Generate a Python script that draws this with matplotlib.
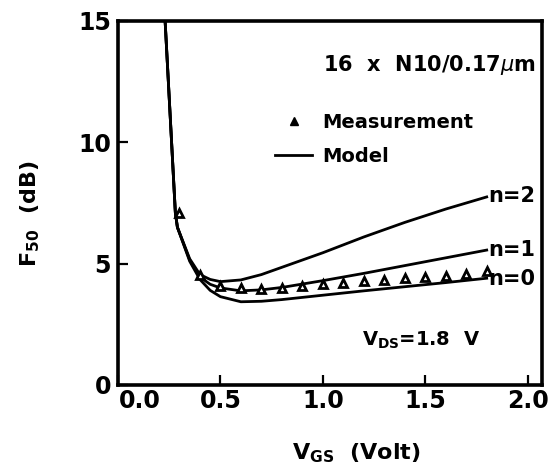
import matplotlib
matplotlib.use('Agg')
from matplotlib import pyplot as plt
from matplotlib import transforms
from matplotlib.lines import Line2D

# model curves F50 vs VGS for n = 0, 1, 2
vgs_model = [0.23, 0.28, 0.29, 0.35, 0.40, 0.45, 0.50, 0.60, 0.70, 0.80, 1.00, 1.20, 1.40, 1.60, 1.80]
f50_n2 = [15.0, 7.10, 6.50, 5.20, 4.55, 4.35, 4.26, 4.33, 4.55, 4.85, 5.45, 6.10, 6.70, 7.25, 7.75]
f50_n1 = [15.0, 7.10, 6.50, 5.15, 4.45, 4.15, 4.00, 3.88, 3.92, 4.02, 4.30, 4.60, 4.92, 5.24, 5.56]
f50_n0 = [15.0, 7.10, 6.50, 5.10, 4.35, 3.90, 3.64, 3.43, 3.45, 3.52, 3.70, 3.88, 4.05, 4.22, 4.40]

# measured points
vgs_meas = [0.3, 0.4, 0.5, 0.6, 0.7, 0.8, 0.9, 1.0, 1.1, 1.2, 1.3, 1.4, 1.5, 1.6, 1.7, 1.8]
f50_meas = [7.1, 4.55, 4.08, 3.98, 3.95, 3.98, 4.08, 4.15, 4.22, 4.28, 4.33, 4.40, 4.45, 4.50, 4.57, 4.71]

xticks = [0.0, 0.5, 1.0, 1.5, 2.0]
yticks = [0, 5, 10, 15]

plt.rcParams['font.family'] = 'DejaVu Sans'
plt.rcParams['mathtext.fontset'] = 'dejavusans'

fig = plt.figure(figsize=(5.48, 4.66), dpi=100)
ax = fig.add_axes([118 / 548, 1 - 385 / 466, 424 / 548, 364 / 466])

for y in (f50_n0, f50_n1, f50_n2):
    ax.plot(vgs_model, y, color='black', lw=2.0, solid_joinstyle='round')
ax.plot(vgs_meas, f50_meas, linestyle='none', marker='^', markersize=5.5,
        markerfacecolor='white', markeredgecolor='black', markeredgewidth=2.0)

ax.set_xlim(0, 2.07)
ax.set_ylim(0, 15)
ax.set_xticks(xticks)
ax.set_xticklabels(['0.0', '0.5', '1.0', '1.5', '2.0'])
ax.set_yticks(yticks)

for s in ax.spines.values():
    s.set_linewidth(2.6)
ax.tick_params(direction='in', length=7, width=1.6, labelsize=17, pad=5)
ax.tick_params(axis='x', pad=3)
for t in ax.get_xticklabels() + ax.get_yticklabels():
    t.set_fontweight('bold')

# shift the 0.0 label right, as in the original
lbl0 = ax.get_xticklabels()[0]
lbl0.set_transform(lbl0.get_transform() + transforms.ScaledTranslation(22 / 100, 0, fig.dpi_scale_trans))

ax.set_xlabel(r'V$_{\mathbf{GS}}$  (Volt)', fontsize=16, fontweight='bold')
ax.xaxis.set_label_coords(0.563, -0.155)
ax.set_ylabel(r'F$_{\mathbf{50}}$  (dB)', fontsize=16, fontweight='bold')
ax.yaxis.set_label_coords(-0.18, 0.47)

ax.text(0.985, 0.88, r'16  x  N10/0.17$\mu$m', transform=ax.transAxes, ha='right', va='center',
        fontsize=15, fontweight='bold')

handles = [Line2D([], [], linestyle='none', marker='^', markersize=6, color='black'),
           Line2D([], [], color='black', lw=2)]
leg = ax.legend(handles, ['Measurement', 'Model'], loc='center left', bbox_to_anchor=(0.33, 0.675),
                frameon=False, handlelength=1.9, handletextpad=0.5, labelspacing=0.75,
                prop={'weight': 'bold', 'size': 14})

ax.text(1.81, 7.8, 'n=2', fontsize=15, fontweight='bold', va='center', ha='left')
ax.text(1.81, 5.55, 'n=1', fontsize=15, fontweight='bold', va='center', ha='left')
ax.text(1.81, 4.35, 'n=0', fontsize=15, fontweight='bold', va='center', ha='left')
ax.text(1.19, 1.85, r'V$_{\mathbf{DS}}$=1.8  V', fontsize=14, fontweight='bold', va='center', ha='left')

fig.savefig('out.png', dpi=100)
